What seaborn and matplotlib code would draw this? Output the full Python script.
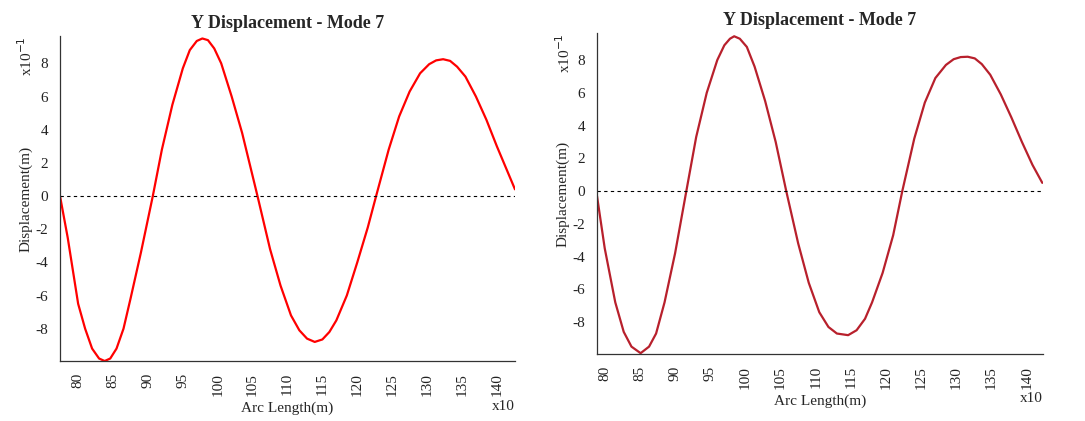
import numpy as np
import matplotlib
matplotlib.use("Agg")
import matplotlib.pyplot as plt
import seaborn as sns

# left panel (x in units of 10 m, y in units of 0.1 m)
left_x = [77.4, 78.5, 80, 81, 82, 83, 83.8, 84.6, 85.5, 86.5, 87.5, 89, 90.7, 92, 93.5,
          95, 96, 97, 97.8, 98.6, 99.5, 100.5, 102, 103.5, 105.7, 107.5, 109, 110.5,
          111.7, 112.8, 113.9, 115, 116, 117, 118.5, 120, 121.5, 122.7, 124.5, 126,
          127.5, 129, 130.3, 131.3, 132.3, 133.3, 134.3, 135.5, 137, 138.5, 140, 141.5, 142.6]
left_y = [0, -2.5, -6.5, -8.0, -9.2, -9.8, -9.95, -9.8, -9.2, -8.0, -6.2, -3.4, 0, 2.8, 5.5,
          7.7, 8.8, 9.35, 9.5, 9.4, 8.9, 8.0, 6.0, 3.8, 0, -3.2, -5.4, -7.2,
          -8.1, -8.6, -8.8, -8.65, -8.2, -7.5, -6.0, -4.0, -1.9, 0, 2.8, 4.8,
          6.3, 7.4, 7.95, 8.18, 8.25, 8.15, 7.8, 7.2, 6.0, 4.6, 3.0, 1.5, 0.4]

# right panel
right_x = [78.9, 80, 81.5, 82.7, 83.8, 85.1, 86.3, 87.3, 88.5, 90, 91.6, 93, 94.5, 96,
           97, 97.8, 98.4, 99.2, 100.2, 101.3, 102.8, 104.3, 105.8, 107.5, 109, 110.5,
           111.8, 113, 114.6, 115.8, 117, 118, 119.5, 121, 122.3, 124, 125.5, 127, 128.5,
           129.6, 130.6, 131.6, 132.6, 133.6, 134.8, 136.3, 137.8, 139.3, 140.8, 142.2]
right_y = [-0.3, -3.5, -6.8, -8.6, -9.5, -9.9, -9.5, -8.7, -6.8, -3.8, 0, 3.3, 6.0, 8.0,
           8.9, 9.3, 9.45, 9.3, 8.8, 7.6, 5.5, 3.0, 0, -3.2, -5.6, -7.4,
           -8.3, -8.7, -8.8, -8.5, -7.8, -6.8, -5.0, -2.7, 0, 3.2, 5.4, 6.9, 7.7,
           8.05, 8.18, 8.2, 8.1, 7.75, 7.1, 5.9, 4.5, 3.0, 1.6, 0.5]

xticks = [80, 85, 90, 95, 100, 105, 110, 115, 120, 125, 130, 135, 140]
yticks = [-8, -6, -4, -2, 0, 2, 4, 6, 8]

sns.set_style("white")
plt.rcParams['font.family'] = ['Liberation Serif', 'DejaVu Serif']

fig = plt.figure(figsize=(10.85, 4.21), dpi=100)
ax1 = fig.add_axes([60 / 1085, 60 / 421, 455 / 1085, 325 / 421])
ax2 = fig.add_axes([597 / 1085, 67 / 421, 446 / 1085, 321 / 421])

panels = [(ax1, left_x, left_y, '#ff0000', (77.4, 142.6)),
          (ax2, right_x, right_y, '#b8202c', (78.9, 142.3))]

for ax, xs, ys, col, xlim in panels:
    sns.lineplot(x=xs, y=ys, ax=ax, color=col, linewidth=1.6, sort=False)
    ax.lines[-1].set_solid_joinstyle('round')
    ax.axhline(0, color='black', linestyle=(0, (3, 3)), linewidth=0.8)
    ax.set_xlim(*xlim)
    ax.set_ylim(-9.95, 9.65)
    ax.set_xticks(xticks)
    ax.set_yticks(yticks)
    ax.set_xticklabels([str(t) for t in xticks], rotation=90, fontsize=11)
    ax.set_yticklabels([str(t) for t in yticks], fontsize=11)
    ax.tick_params(direction='out', length=5, width=0.8, colors='#222222')
    for s in ['top', 'right']:
        ax.spines[s].set_visible(False)
    for s in ['left', 'bottom']:
        ax.spines[s].set_color('#333333')
        ax.spines[s].set_linewidth(0.9)
    ax.set_title('Y Displacement - Mode 7', fontsize=13, fontweight='bold', pad=6)
    ax.set_xlabel('Arc Length(m)', fontsize=11, labelpad=4)
    ax.set_ylabel('Displacement(m)', fontsize=11, labelpad=2)
    ax.text(-0.075, 1.0, r'x10$^{-1}$', transform=ax.transAxes, rotation=90,
            fontsize=11, ha='center', va='top')
    ax.text(1.0, -0.14, 'x10', transform=ax.transAxes, fontsize=11,
            ha='right', va='center')

fig.savefig('out.png', dpi=100)
